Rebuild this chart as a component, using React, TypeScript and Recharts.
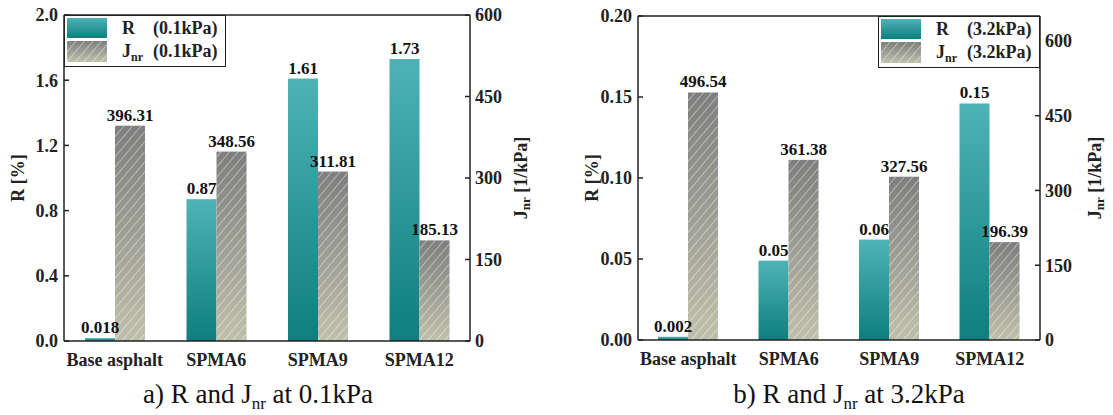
import React from 'react';
import { BarChart, Bar, XAxis, YAxis, LabelList, Legend, ReferenceLine } from 'recharts';

// categories and values
const categories = ['Base asphalt', 'SPMA6', 'SPMA9', 'SPMA12'];

const rLow = [0.018, 0.87, 1.61, 1.73];
const rLowLabels = ['0.018', '0.87', '1.61', '1.73'];
const jLow = [396.31, 348.56, 311.81, 185.13];

const rHigh = [0.002, 0.049, 0.062, 0.146];
const rHighLabels = ['0.002', '0.05', '0.06', '0.15'];
const jHigh = [496.54, 361.38, 327.56, 196.39];

const rLowTicks = [0, 0.4, 0.8, 1.2, 1.6, 2.0];
const rHighTicks = [0, 0.05, 0.1, 0.15, 0.2];
const jTicks = [0, 150, 300, 450, 600];

const INK = '#222';
const FONT = 'Liberation Serif, Tinos, DejaVu Serif, serif';

function buildRows(r: number[], rLabels: string[], j: number[]) {
  return categories.map((name, i) => ({
    name,
    r: r[i],
    rLabel: rLabels[i],
    j: j[i],
    jLabel: j[i].toFixed(2),
  }));
}

// gradient + white diagonal hatch for the Jnr bars
const HatchBar = (props: any) => {
  const { x, y, width, height } = props;
  if (!height || height <= 0) return null;
  return (
    <g>
      <rect x={x} y={y} width={width} height={height} fill="url(#jGrad)" />
      <rect x={x} y={y} width={width} height={height} fill="url(#hatch)" />
    </g>
  );
};

const TealBar = (props: any) => {
  const { x, y, width, height } = props;
  if (!height || height <= 0) return null;
  return <rect x={x} y={y} width={width} height={height} fill="url(#rGrad)" />;
};

const RTitle = (dx: number) => (props: any) => {
  const vb = props.viewBox;
  const cx = vb.x + dx;
  const cy = vb.y + vb.height / 2;
  return (
    <text
      x={cx}
      y={cy}
      transform={`rotate(-90, ${cx}, ${cy})`}
      textAnchor="middle"
      dominantBaseline="central"
      style={{ fontFamily: FONT }}
      fontWeight="bold"
      fontSize={18}
      fill={INK}
    >
      R [%]
    </text>
  );
};

const JTitle = (dx: number) => (props: any) => {
  const vb = props.viewBox;
  const cx = vb.x + dx;
  const cy = vb.y + vb.height / 2;
  return (
    <text
      x={cx}
      y={cy}
      transform={`rotate(-90, ${cx}, ${cy})`}
      textAnchor="middle"
      dominantBaseline="central"
      style={{ fontFamily: FONT }}
      fontWeight="bold"
      fontSize={18}
      fill={INK}
    >
      J
      <tspan dy={4} fontSize={13}>nr</tspan>
      <tspan dy={-4}> [1/kPa]</tspan>
    </text>
  );
};

const LegendBox = ({ pressure }: { pressure: string }) => (
  <div
    style={{
      position: 'relative',
      width: 162,
      height: 52,
      boxSizing: 'border-box',
      border: `1.5px solid ${INK}`,
      background: '#fff',
      fontFamily: FONT,
      fontWeight: 'bold',
      fontSize: 18,
      color: INK,
    }}
  >
    <svg width={40} height={20} style={{ position: 'absolute', left: 2, top: 2 }}>
      <rect x={0} y={0} width={40} height={20} fill="url(#rGrad)" />
    </svg>
    <svg width={40} height={21} style={{ position: 'absolute', left: 2, top: 25 }}>
      <rect x={0} y={0} width={40} height={21} fill="url(#jGrad)" />
      <rect x={0} y={0} width={40} height={21} fill="url(#hatch)" />
    </svg>
    <div style={{ position: 'absolute', left: 57, top: 1, lineHeight: '22px' }}>R</div>
    <div style={{ position: 'absolute', left: 88, top: 1, lineHeight: '22px' }}>({pressure})</div>
    <div style={{ position: 'absolute', left: 57, top: 24, lineHeight: '22px' }}>
      J<sub style={{ fontSize: 12, verticalAlign: -4 }}>nr</sub>
    </div>
    <div style={{ position: 'absolute', left: 88, top: 24, lineHeight: '22px' }}>({pressure})</div>
  </div>
);

interface PanelProps {
  rows: ReturnType<typeof buildRows>;
  width: number;
  margin: { top: number; right: number; bottom: number; left: number };
  rMax: number;
  rTicks: number[];
  rDigits: number;
  jMax: number;
  pressure: string;
  legendPos: { left: number; top: number };
  rTitleDx: number;
  jTitleDx: number;
}

function Panel(p: PanelProps) {
  const tickStyle = { fontFamily: FONT, fontWeight: 'bold', fontSize: 18, fill: INK };
  return (
    <BarChart
      width={p.width}
      height={370}
      data={p.rows}
      margin={p.margin}
      barGap={0}
      barSize={30}
      style={{ fontFamily: FONT }}
    >
      <XAxis
        dataKey="name"
        height={25}
        tickLine={false}
        tickMargin={6}
        stroke={INK}
        strokeWidth={1.5}
        tick={tickStyle}
        interval={0}
      />
      <YAxis
        yAxisId="left"
        orientation="left"
        width={50}
        domain={[0, p.rMax]}
        ticks={p.rTicks}
        tickFormatter={(v: number) => v.toFixed(p.rDigits)}
        tickSize={-5}
        tickMargin={11}
        stroke={INK}
        strokeWidth={1.5}
        tick={tickStyle}
        allowDataOverflow
        label={{ content: RTitle(p.rTitleDx) }}
      />
      <YAxis
        yAxisId="right"
        orientation="right"
        width={50}
        domain={[0, p.jMax]}
        ticks={jTicks}
        tickSize={-5}
        tickMargin={10}
        stroke={INK}
        strokeWidth={1.5}
        tick={tickStyle}
        allowDataOverflow
        label={{ content: JTitle(p.jTitleDx) }}
      />
      <ReferenceLine yAxisId="left" y={p.rMax} stroke={INK} strokeWidth={1.5} ifOverflow="visible" />
      <Legend
        layout="horizontal"
        verticalAlign="middle"
        align="center"
        content={() => <LegendBox pressure={p.pressure} />}
        wrapperStyle={{ position: 'absolute', left: p.legendPos.left, top: p.legendPos.top, width: 162, height: 52 }}
      />
      <Bar yAxisId="left" dataKey="r" name="R" shape={TealBar} isAnimationActive={false}>
        <LabelList
          dataKey="rLabel"
          position="top"
          offset={5}
          fill="#111"
          style={{ fontFamily: FONT }}
          fontWeight="bold"
          fontSize={17}
        />
      </Bar>
      <Bar yAxisId="right" dataKey="j" name="Jnr" shape={HatchBar} isAnimationActive={false}>
        <LabelList
          dataKey="jLabel"
          position="top"
          offset={5}
          fill="#111"
          style={{ fontFamily: FONT }}
          fontWeight="bold"
          fontSize={17}
        />
      </Bar>
    </BarChart>
  );
}

const Caption = ({ prefix, pressure, center }: { prefix: string; pressure: string; center: number }) => (
  <div
    style={{
      position: 'absolute',
      left: center - 200,
      width: 400,
      top: 378,
      textAlign: 'center',
      fontFamily: FONT,
      fontSize: 27,
      lineHeight: '32px',
      color: '#111',
    }}
  >
    {prefix} R and J<sub style={{ fontSize: 17, verticalAlign: -6 }}>nr</sub> at {pressure}
  </div>
);

export default function App() {
  const lowRows = buildRows(rLow, rLowLabels, jLow);
  const highRows = buildRows(rHigh, rHighLabels, jHigh);

  return (
    <div
      style={{
        position: 'absolute',
        left: 0,
        top: 0,
        width: 1113,
        height: 415,
        background: '#fff',
        overflow: 'hidden',
        fontFamily: FONT,
      }}
    >
      <svg width={0} height={0} style={{ position: 'absolute' }}>
        <defs>
          <linearGradient id="rGrad" x1="0" y1="0" x2="0" y2="1">
            <stop offset="0%" stopColor="#4eb3b6" />
            <stop offset="100%" stopColor="#0e7e7e" />
          </linearGradient>
          <linearGradient id="jGrad" x1="0" y1="0" x2="0" y2="1">
            <stop offset="0%" stopColor="#7e7e7e" />
            <stop offset="100%" stopColor="#bfc0ab" />
          </linearGradient>
          <pattern id="hatch" width={6.5} height={6.5} patternUnits="userSpaceOnUse" patternTransform="rotate(40)">
            <line x1={0} y1={0} x2={0} y2={6.5} stroke="#ffffff" strokeOpacity={0.8} strokeWidth={1} />
          </pattern>
        </defs>
      </svg>

      <div style={{ position: 'absolute', left: 0, top: 0 }}>
        <Panel
          rows={lowRows}
          width={540}
          margin={{ top: 15, right: 20, bottom: 4, left: 14 }}
          rMax={2}
          rTicks={rLowTicks}
          rDigits={1}
          jMax={600}
          pressure="0.1kPa"
          legendPos={{ left: 64, top: 15 }}
          rTitleDx={4}
          jTitleDx={51}
        />
      </div>

      <div style={{ position: 'absolute', left: 560, top: 0 }}>
        <Panel
          rows={highRows}
          width={553}
          margin={{ top: 16, right: 23, bottom: 5, left: 28 }}
          rMax={0.2}
          rTicks={rHighTicks}
          rDigits={2}
          jMax={650}
          pressure="3.2kPa"
          legendPos={{ left: 318, top: 16 }}
          rTitleDx={4}
          jTitleDx={55}
        />
      </div>

      <Caption prefix="a)" pressure="0.1kPa" center={258} />
      <Caption prefix="b)" pressure="3.2kPa" center={849} />
    </div>
  );
}
